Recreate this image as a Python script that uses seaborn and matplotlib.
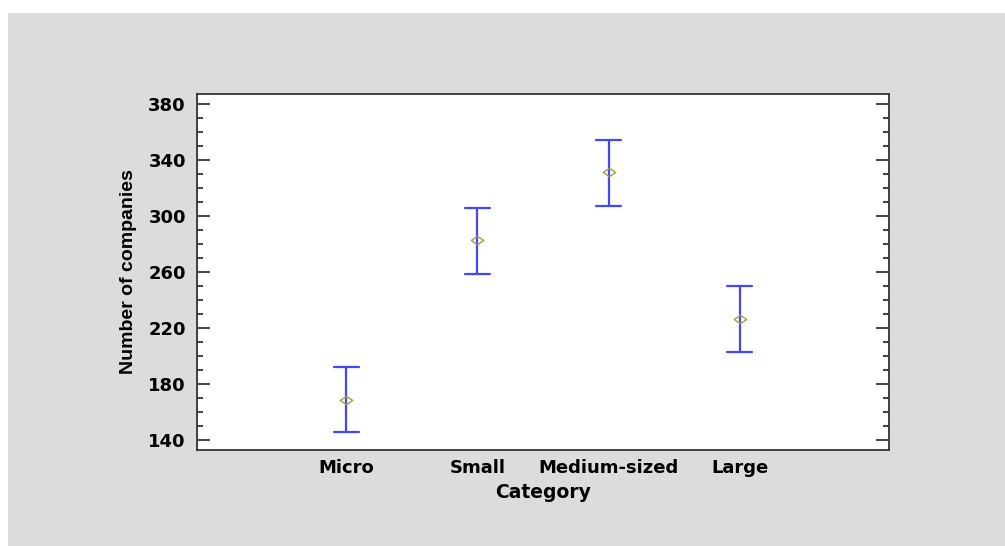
import numpy as np
import pandas as pd
import matplotlib
matplotlib.use("Agg")
import matplotlib.pyplot as plt
from matplotlib.path import Path
from matplotlib.patches import Rectangle
from matplotlib.ticker import MultipleLocator
import seaborn as sns

# ---- data ----
categories = ["Micro", "Small", "Medium-sized", "Large"]
means = [168.6, 282.7, 331.4, 226.7]
lower = [145.7, 258.6, 307.1, 202.9]
upper = [192.1, 305.9, 354.1, 250.3]
y_ticks = [140, 180, 220, 260, 300, 340, 380]

rows = []
for c, lo, m, hi in zip(categories, lower, means, upper):
    for v in (lo, m, hi):
        rows.append({"Category": c, "value": v})
df = pd.DataFrame(rows)

sns.set_style("ticks")
plt.rcParams["font.family"] = ["DejaVu Sans"]
plt.rcParams["font.weight"] = "bold"
plt.rcParams["text.color"] = "black"
plt.rcParams["axes.labelcolor"] = "black"

fig = plt.figure(figsize=(10.05, 5.46), dpi=100)
fig.patch.set_facecolor("white")
fig.patches.append(Rectangle((8 / 1005, 0), 1 - 8 / 1005, 1 - 13 / 546,
                             transform=fig.transFigure, facecolor="#dcdcdc",
                             edgecolor="none", zorder=-10))

ax = fig.add_axes([197 / 1005, 1 - 450 / 546, (889 - 197) / 1005, (450 - 94) / 546])
ax.set_facecolor("white")

blue = "#4545ff"
olive = "#a0a040"

# error bars: median of (lo, mean, hi) = mean, 100% interval = lo..hi
sns.pointplot(data=df, x="Category", y="value", order=categories,
              estimator="median", errorbar=("pi", 100), capsize=0.19,
              linestyle="none", color=blue, markersize=0,
              err_kws={"linewidth": 1.6}, ax=ax)

diamond = Path([(-1.5, 0), (0, 1), (1.5, 0), (0, -1), (-1.5, 0)],
               [Path.MOVETO, Path.LINETO, Path.LINETO, Path.LINETO, Path.CLOSEPOLY])
sns.pointplot(data=df, x="Category", y="value", order=categories,
              estimator="median", errorbar=None, linestyle="none",
              color=olive, marker=diamond, markersize=9,
              markerfacecolor="none", markeredgecolor=olive,
              markeredgewidth=1.0, ax=ax)

ax.set_xlim(-1.135, 4.135)
ax.set_ylim(132.9, 387.1)
ax.set_yticks(y_ticks)
ax.yaxis.set_minor_locator(MultipleLocator(10))

for s in ax.spines.values():
    s.set_visible(True)
    s.set_color("#333333")
    s.set_linewidth(1.3)

ax.tick_params(axis="y", which="both", direction="in", left=True, right=True,
               labelsize=13, colors="#111111", labelcolor="black")
ax.tick_params(axis="y", which="major", length=9.4, width=1.1, pad=8)
ax.tick_params(axis="y", which="minor", length=4.3, width=1.1)
ax.tick_params(axis="x", which="both", bottom=False, top=False, labelsize=13,
               labelcolor="black", pad=3)
for lab in ax.get_xticklabels() + ax.get_yticklabels():
    lab.set_fontweight("bold")

ax.set_xlabel("Category", fontsize=13.5, fontweight="bold", labelpad=4)
ax.set_ylabel("Number of companies", fontsize=14, fontweight="bold",
              family=["Liberation Sans", "DejaVu Sans"], labelpad=8)

fig.savefig("out.png", dpi=100)
